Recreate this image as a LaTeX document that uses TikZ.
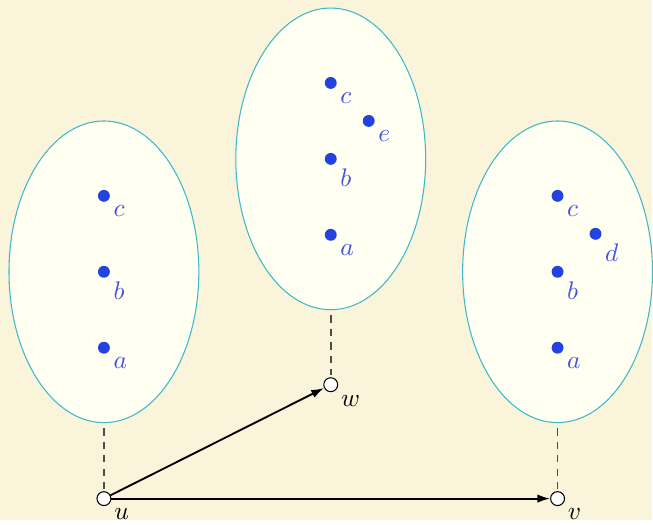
\documentclass[tikz,border=0pt]{standalone}
\usepackage{tikz}
\usetikzlibrary{arrows.meta, shapes.geometric}
\definecolor{paper}{HTML}{F9F4DA}
\definecolor{blobfill}{HTML}{FFFFF2}
\definecolor{blobline}{HTML}{3BB9C9}
\definecolor{dotblue}{HTML}{2442E0}
\definecolor{dotlbl}{HTML}{4453E0}

\begin{document}
\begin{tikzpicture}[
    x=0.0151cm, y=-0.0151cm,
    font=\fontsize{11}{13}\selectfont,
    every label/.style={inner sep=2pt},
    blob/.style={ellipse, draw=blobline, fill=blobfill, line width=0.45pt,
                 inner sep=0pt, minimum width=2.87cm, minimum height=4.56cm},
    pt/.style ={circle, fill=dotblue, inner sep=0pt, minimum size=0.18cm},
    lbl/.style={text=dotlbl},
    vtx/.style={circle, draw=black, fill=white, line width=0.45pt,
                inner sep=0pt, minimum size=0.21cm},
    tether/.style={dash pattern=on 3.2pt off 2.6pt, draw=black!70, line width=0.7pt,
                   shorten <=0.075cm, shorten >=1pt},
    arc/.style={-{Latex[length=5.5pt, width=3.6pt]}, thick, draw=black}]

  \fill[paper] (0,0) rectangle (653,520);

  % fibres
  \node[blob] (fu) at (104,272) {};
  \node[blob] (fw) at (331,159) {};
  \node[blob] (fv) at (558,272) {};

  % points over u
  \node[pt, label={[lbl]below right:$c$}] (uc) at (104,196) {};
  \node[pt, label={[lbl]below right:$b$}] (ub) at (104,272) {};
  \node[pt, label={[lbl]below right:$a$}] (ua) at (104,348) {};

  % points over w
  \node[pt, label={[lbl]below right:$c$}] (wc) at (331,83)  {};
  \node[pt, label={[lbl]below right:$e$}] (we) at (369,121) {};
  \node[pt, label={[lbl]below right:$b$}] (wb) at (331,159) {};
  \node[pt, label={[lbl]below right:$a$}] (wa) at (331,235) {};

  % points over v
  \node[pt, label={[lbl]below right:$c$}] (vc) at (558,196) {};
  \node[pt, label={[lbl]below right:$d$}] (vd) at (596,234) {};
  \node[pt, label={[lbl]below right:$b$}] (vb) at (558,272) {};
  \node[pt, label={[lbl]below right:$a$}] (va) at (558,348) {};

  % base
  \node[vtx, label={below right:$u$}] (u) at (104,499) {};
  \node[vtx, label={below right:$w$}] (w) at (331,385) {};
  \node[vtx, label={below right:$v$}] (v) at (558,499) {};

  \draw[tether] (fu.south) -- (u);
  \draw[tether] (fw.south) -- (w);
  \draw[tether] (fv.south) -- (v);

  \draw[arc] (u) -- (w);
  \draw[arc] (u) -- (v);
\end{tikzpicture}
\end{document}
